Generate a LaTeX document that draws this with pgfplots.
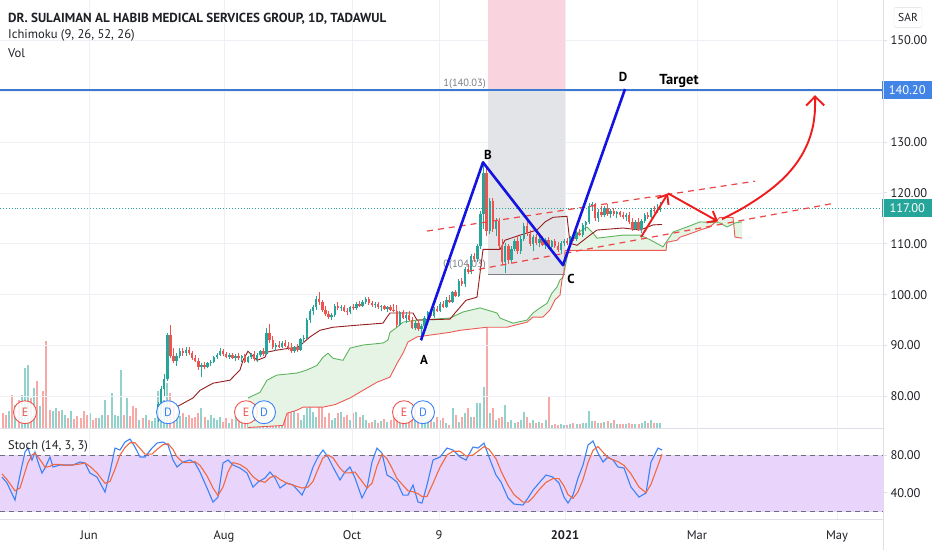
\documentclass[border=0pt]{standalone}
\usepackage{fontspec}
\setmainfont{PT Sans}
\usepackage{pgfplots}
\pgfplotsset{compat=1.18}
\usepackage{pgfplotstable}
\usetikzlibrary{arrows.meta}

\definecolor{upc}{RGB}{38,166,154}
\definecolor{dnc}{RGB}{239,83,80}
\definecolor{volup}{RGB}{146,210,204}
\definecolor{voldn}{RGB}{247,169,167}
\definecolor{kijun}{RGB}{150,30,30}
\definecolor{spanA}{RGB}{95,180,95}
\definecolor{spanB}{RGB}{236,90,85}
\definecolor{cloudc}{RGB}{230,244,230}
\definecolor{xabcd}{RGB}{20,20,225}
\definecolor{tgt}{RGB}{60,122,210}
\definecolor{tgtbox}{RGB}{66,133,230}
\definecolor{rarrow}{RGB}{240,28,28}
\definecolor{rdash}{RGB}{236,70,70}
\definecolor{kc}{RGB}{60,130,245}
\definecolor{dc}{RGB}{240,105,65}
\definecolor{stochfill}{RGB}{233,213,252}
\definecolor{bandc}{RGB}{110,110,122}
\definecolor{pinkc}{RGB}{249,211,222}
\definecolor{greyc}{RGB}{227,228,231}
\definecolor{sepc}{RGB}{220,223,230}
\definecolor{gridc}{RGB}{238,240,246}
\definecolor{labc}{RGB}{30,32,38}
\definecolor{fibc}{RGB}{125,128,138}

\pgfplotstableread{
x o h l c v
158.0 76 79 75 78.5 37
161.1 78.5 82 78 81.5 30
164.2 81.5 84.5 80 83.5 28
167.3 83.5 92.5 83 92 45
176.6 87 88.5 86 88 15
179.7 88 89.5 87.5 89 12
185.9 88.5 89.8 88 89.2 11
201.4 85.8 86.5 83.8 86.2 20
207.6 85.8 86.8 85.5 86.5 8
210.7 86.5 87.2 86 86.8 13
213.8 86.8 88 86.5 87.8 10
216.9 87.8 88.5 87.3 88.2 8
220.0 88.2 89.5 88 89 11
229.3 87.8 88.5 87.3 88.2 5
235.5 87.6 88.3 87 87.9 12
241.7 87.5 88.2 86.8 87.9 8
247.9 86.8 88 86.5 87.8 9
251.0 87.8 88.6 87.3 88.4 8
257.2 87.3 88.5 86.8 88.2 10
260.3 88.2 89.2 87.8 89 9
266.5 88.4 93.5 88.2 92.5 25
275.8 89.8 90.5 89 90.2 11
282.0 89.8 90.8 89.5 90.5 10
294.4 89 90 88.5 89.7 20
300.6 89.2 91.5 89 91.2 8
303.7 91.2 92 90.5 91.5 13
306.8 91.5 95.5 91.2 95 20
309.9 95 97.2 94.5 96.8 31
313.0 96.8 98 96 97.5 16
316.1 97.5 99.8 97 99.2 11
331.6 95.6 96.3 95 96 8
334.7 96 98.2 95.7 97.8 10
340.9 97.3 98 96.8 97.6 16
350.2 96.5 97.8 96.2 97.5 8
356.4 97.3 98.5 97 98.2 16
362.6 97.8 98.9 97.5 98.6 13
365.7 98.6 99.6 98.2 99.2 8
375.0 97.9 98.5 97.3 98.2 8
381.2 97.5 98 96.8 97.7 7
387.4 97.2 97.8 96.5 97.5 6
399.8 94 96.8 93.8 96.5 8
406.0 95.5 96.5 94.5 96 7
415.3 93.5 94.8 93 94.5 9
421.5 93.2 94.2 90.8 93.8 12
424.6 93.8 95.8 93.5 95.5 7
427.7 95.5 96.8 95 96.5 9
433.9 95.8 97.5 95.5 97.2 6
440.1 96.8 98.5 96.5 98.2 8
446.3 97.6 99.5 97.3 99 5
452.5 98.6 100.8 98.3 100.5 20
458.7 99.8 103 99.5 102.6 6
464.9 102 105.5 101.5 105 15
471.1 104.5 108 104 107.5 11
477.3 107 110 106.5 109.5 25
480.4 109.5 116.5 109 115.8 25
483.5 115.8 126.3 113 124 41
489.7 112.5 119 112 118.5 15
495.9 113 115 111.5 114.5 8
505.2 106.5 110.2 104.2 109.5 23
511.4 106.8 109.5 106.2 109 8
514.5 109 111 108.5 110.5 5
520.7 108.5 111.5 108 111 8
523.8 111 114 110.5 113.5 16
533.1 110 111.8 108.5 111.3 8
539.3 110.2 111.5 109.3 111 6
545.5 109.8 111.2 109 110.8 8
551.7 109.4 110.8 108.8 110.5 3
561.0 108.8 110.5 108 110.2 4
564.1 110.2 111 109.5 110.6 3
570.3 110.2 111.5 109.8 111.2 4
576.5 111 112.5 110.5 112.2 4
582.7 111.8 114 111.3 113.6 5
585.8 113.6 114.5 112.5 114.2 5
588.9 114.2 118 113.8 117.5 17
592.0 117.5 118.3 116.5 117.8 7
598.2 115 116.8 114.3 116.3 5
604.4 115.6 117.5 115.2 117 6
610.6 115.8 116.8 115 116.5 5
616.8 115.8 116.5 115 116.2 4
626.1 115.2 116 114.5 115.7 4
635.4 113 114.6 112.8 114.3 4
641.6 113 114.8 112.2 114.5 5
644.7 114.5 116 114 115.7 7
650.9 115.2 117 115 116.7 8
657.1 116.4 117.8 116 116.6 5
660.2 116.6 118.2 116.3 117 5
}\candup

\pgfplotstableread{
x o h l c v
170.4 92 94 87.5 88 35
173.5 88 89.5 86.5 87 22
182.8 89 89.6 88 88.5 15
189.0 89.2 89.8 88.2 88.6 13
192.1 88.6 89 87.2 87.5 10
195.2 87.5 88.2 86.8 87 11
198.3 87 87.5 85.2 85.8 15
204.5 86.2 86.8 85.3 85.8 11
223.1 89 89.3 88 88.3 6
226.2 88.3 88.8 87.5 87.8 10
232.4 88.2 88.6 87.4 87.6 9
238.6 87.9 88.5 87.2 87.5 10
244.8 87.9 88.4 86.5 86.8 14
254.1 88.4 89 87 87.3 12
263.4 89 89.6 88 88.4 14
269.6 92.5 94.3 90.5 91 18
272.7 91 91.8 89.3 89.8 12
278.9 90.2 90.8 89.5 89.8 10
285.1 90.5 91 89.8 90 13
288.2 90 90.7 89.2 89.5 15
291.3 89.5 90.5 88.6 89 16
297.5 89.7 90.3 88.8 89.2 15
319.2 99.2 100.5 98 98.5 31
322.3 98.5 99 96.5 97 70
325.4 97 97.8 95.8 96.2 11
328.5 96.2 96.8 95.3 95.6 15
337.8 97.8 98.5 97 97.3 15
344.0 97.6 98 96.5 96.8 11
347.1 96.8 97.4 96 96.5 13
353.3 97.5 98.2 97 97.3 15
359.5 98.2 98.8 97.5 97.8 11
368.8 99.2 99.5 98 98.3 5
371.9 98.3 98.7 97.6 97.9 6
378.1 98.2 98.6 97.2 97.5 5
384.3 97.7 98 97 97.2 9
390.5 97.5 97.9 96.8 97 8
393.6 97 98.2 96.5 96.8 10
396.7 96.8 98 93.6 94 14
402.9 96.5 97 95.2 95.5 9
409.1 96 96.8 94.8 95 10
412.2 95 95.6 93.2 93.5 8
418.4 94.5 95 92.8 93.2 10
430.8 96.5 97 95.5 95.8 8
437.0 97.2 97.8 96.5 96.8 11
443.2 98.2 98.8 97.3 97.6 10
449.4 99 100 98.3 98.6 3
455.6 100.5 101 99.5 99.8 13
461.8 102.6 103.2 101.8 102 11
468.0 105 106 104 104.5 20
474.2 107.5 108.2 106.5 107 11
486.6 124 125.5 111.5 112.5 106
492.8 118.5 119 112.3 113 20
499.0 114.5 115 109 109.5 10
502.1 109.5 111 106 106.5 11
508.3 109.5 110 106 106.8 6
517.6 110.5 111.5 108 108.5 6
526.9 113.5 114.5 111.5 112 11
530.0 112 112.8 109.5 110 5
536.2 111.3 112 109.8 110.2 5
542.4 111 111.5 109.5 109.8 5
548.6 110.8 111.3 109 109.4 31
554.8 110.5 111 109.2 109.6 4
557.9 109.6 110.3 108.3 108.8 3
567.2 110.6 111.2 109.8 110.2 3
573.4 111.2 112 110.5 111 5
579.6 112.2 113 111.5 111.8 4
595.1 117.8 118 114.5 115 7
601.3 116.3 117.5 115.3 115.6 5
607.5 117 117.8 115.5 115.8 7
613.7 116.5 117 115.5 115.8 8
619.9 116.2 116.5 115.3 115.6 4
623.0 115.6 116.3 114.8 115.2 4
629.2 115.7 116.2 113.8 114.2 5
632.3 114.2 115 112.5 113 4
638.5 114.3 115 112.5 113 4
647.8 115.7 116.2 114.8 115.2 5
654.0 116.7 117.5 116 116.4 5
}\canddn

\pgfplotstableread{
x v
9.2 17
15.4 23
21.6 33
24.7 60
27.8 63
34 40
40.2 22
52.6 17
55.7 20
61.9 18
65 13
71.2 17
89.8 15
99.1 10
102.2 13
105.3 28
111.5 35
114.6 13
117.7 12
120.8 58
127 30
139.4 8
145.6 13
151.8 7
154.9 10
}\volupz

\pgfplotstableread{
x v
3 15
6.1 13
12.3 33
18.5 28
30.9 30
37.1 47
43.3 37
46.4 87
49.5 18
58.8 17
68.1 10
74.3 9
77.4 12
80.5 10
83.6 17
86.7 13
92.9 8
96 10
108.4 13
123.9 13
130.1 12
133.2 22
136.3 20
142.5 10
148.7 8
}\voldnz

\pgfplotsset{
  panel/.style={scale only axis, width=883pt, xmin=0, xmax=883,
    axis x line*=bottom, axis y line*=right,
    axis line style={draw=sepc, line width=0.8pt},
    xtick={89,224,352,439,565,697,837},
    xtick style={draw=none}, ytick style={draw=sepc, line width=0.8pt},
    major tick length=4pt, tick align=outside,
    major grid style={draw=gridc, line width=0.7pt},
    tick label style={font=\fontsize{12.5}{14}\selectfont, text=labc},
    yticklabel={\pgfmathprintnumber[fixed,fixed zerofill,precision=2,assume math mode=true]{\tick}},
    clip=false},
}
\tikzset{
  emark/.style={circle, draw=dnc, fill=white, fill opacity=0.85, text opacity=1, minimum size=23pt, inner sep=0pt, line width=0.9pt, text=dnc, font=\fontsize{12}{14}\selectfont},
  dmark/.style={circle, draw=kc, fill=white, fill opacity=0.85, text opacity=1, minimum size=23pt, inner sep=0pt, line width=0.9pt, text=kc, font=\fontsize{12}{14}\selectfont},
}

\begin{document}
\begin{tikzpicture}
\path[use as bounding box, fill=white] (0pt,0pt) rectangle (932pt,550pt);

% ---------- volume ----------
\begin{axis}[at={(0pt,122pt)}, anchor=south west, scale only axis,
  width=883pt, height=428pt, xmin=0, xmax=883, ymin=0, ymax=428, hide axis]
\addplot[ycomb, line width=2pt, draw=volup] table[x=x,y=v]{\volupz};
\addplot[ycomb, line width=2pt, draw=voldn] table[x=x,y=v]{\voldnz};
\addplot[ycomb, line width=2pt, draw=volup] table[x=x,y=v]{\candup};
\addplot[ycomb, line width=2pt, draw=voldn] table[x=x,y=v]{\canddn};
\end{axis}

% ---------- price panel ----------
\begin{axis}[panel, at={(0pt,122pt)}, anchor=south west, height=428pt,
  ymin=73.8, ymax=157.9, ytick={80,90,...,150}, xticklabels={},
  grid=major]
% measure boxes
\addplot[fill=pinkc, draw=none] coordinates {(488,140.2)(565,140.2)(565,157.9)(488,157.9)};
\addplot[fill=greyc, draw=none] coordinates {(488,104.03)(565,104.03)(565,140.2)(488,140.2)};
\addplot[draw=fibc, line width=1pt] coordinates {(488,104.03)(565,104.03)};
\node[anchor=east, text=fibc, font=\fontsize{10.5}{12}\selectfont, inner sep=1pt] at (axis cs:487,141.4) {1(140.03)};
\node[anchor=east, text=fibc, font=\fontsize{10.5}{12}\selectfont, inner sep=1pt] at (axis cs:487,105.8) {0(104.03)};

% Ichimoku cloud (span A forward, span B back)
\addplot[fill=cloudc, draw=none] coordinates {(248,79.7)(260,80.8)(267,83.2)(277,84.2)(297,84.6)(307,85.2)(317,86.1)(323,87.7)(328,88.5)(333,87.5)(343,87.1)(350,89.5)(363,90.1)(383,90.5)(388,91.1)(390,92.6)(397,93.6)(403,94.6)(417,95.0)(450,95.4)(463,96.6)(480,97.4)(497,96.4)(500,95.4)(513,94.4)(527,95.0)(533,96.4)(540,97.4)(547,98.3)(552,100.3)(557,101.5)(560,102.9)(563,103.4)(570,110.1)(577,112.1)(587,113.3)(593,112.1)(597,111.1)(623,111.7)(640,111.7)(650,110.8)(663,109.4)(673,112.3)(687,113.3)(700,114.3)(720,114.1)(727,113.3)(735,114.1)(742,114.3)
(742,111.1)(735,111.3)(733,115.2)(720,115.2)(717,114.6)(710,113.3)(700,112.7)(692,112.1)(680,111.3)(677,110.7)(667,110.3)(666,108.7)(565,108.7)(564,104.5)(562,102.9)(560,99.9)(555,99.0)(550,97.0)(543,95.6)(533,95.6)(527,94.6)(507,93.6)(487,93.6)(460,93.0)(450,92.6)(417,91.7)(408,90.7)(403,88.5)(397,86.5)(390,83.8)(377,82.8)(363,81.2)(350,79.7)(335,78.4)(323,77.9)(303,77.9)(297,77.3)(287,76.7)(283,74.3)(248,73.9)};
\addplot[spanA, line width=0.9pt] coordinates {(248,79.7)(260,80.8)(267,83.2)(277,84.2)(297,84.6)(307,85.2)(317,86.1)(323,87.7)(328,88.5)(333,87.5)(343,87.1)(350,89.5)(363,90.1)(383,90.5)(388,91.1)(390,92.6)(397,93.6)(403,94.6)(417,95.0)(450,95.4)(463,96.6)(480,97.4)(497,96.4)(500,95.4)(513,94.4)(527,95.0)(533,96.4)(540,97.4)(547,98.3)(552,100.3)(557,101.5)(560,102.9)(563,103.4)(570,110.1)(577,112.1)(587,113.3)(593,112.1)(597,111.1)(623,111.7)(640,111.7)(650,110.8)(663,109.4)(673,112.3)(687,113.3)(700,114.3)(720,114.1)(727,113.3)(735,114.1)(742,114.3)};
\addplot[spanB, line width=0.9pt] coordinates {(248,73.9)(283,74.3)(287,76.7)(297,77.3)(303,77.9)(323,77.9)(335,78.4)(350,79.7)(363,81.2)(377,82.8)(390,83.8)(397,86.5)(403,88.5)(408,90.7)(417,91.7)(450,92.6)(460,93.0)(487,93.6)(507,93.6)(527,94.6)(533,95.6)(543,95.6)(550,97.0)(555,99.0)(560,99.9)(562,102.9)(564,104.5)(565,108.7)(666,108.7)(667,110.3)(677,110.7)(680,111.3)(692,112.1)(700,112.7)(710,113.3)(717,114.6)(720,115.2)(733,115.2)(735,111.3)(742,111.1)};
\addplot[kijun, line width=0.9pt] coordinates {(178,78.1)(193,79.7)(200,81.2)(213,82.6)(230,83.2)(240,85.2)(243,87.1)(248,88.9)(252,88.1)(257,87.1)(265,87.7)(267,88.7)(277,89.1)(290,89.5)(298,89.7)(303,90.5)(310,91.7)(320,93.0)(333,93.6)(357,94.0)(383,94.4)(387,95.6)(390,96.4)(413,96.4)(417,95.0)(450,95.2)(455,96.4)(466,98.9)(477,99.5)(483,108.9)(500,108.9)(505,110.7)(520,111.7)(537,112.7)(545,114.3)(553,115.2)(567,115.4)(570,110.1)(577,109.7)(590,111.7)(597,112.7)(623,113.1)(640,112.7)(653,113.7)(662,113.8)};

% candles: wicks low->high, bodies min(o,c)->max(o,c)
\addplot[draw=upc, line width=0.75pt, quiver={u=0, v=\thisrow{h}-\thisrow{l}}] table[x=x, y=l]{\candup};
\addplot[draw=dnc, line width=0.75pt, quiver={u=0, v=\thisrow{h}-\thisrow{l}}] table[x=x, y=l]{\canddn};
\addplot[draw=upc, line width=2.4pt, quiver={u=0, v={max(\thisrow{c}-\thisrow{o},0.25)}}] table[x=x, y=o]{\candup};
\addplot[draw=dnc, line width=2.4pt, quiver={u=0, v={max(\thisrow{o}-\thisrow{c},0.25)}}] table[x=x, y=c]{\canddn};

% last price and target lines
\addplot[upc, dotted, line width=0.9pt] coordinates {(0,117)(883,117)};
\addplot[tgt, line width=1.8pt] coordinates {(0,140.2)(883,140.2)};

% channel
\addplot[rdash, line width=1.2pt, dash pattern=on 6pt off 5pt] coordinates {(427,112.5)(755,122.3)};
\addplot[rdash, line width=1.2pt, dash pattern=on 6pt off 5pt] coordinates {(468,104.6)(835,118.0)};

% XABCD
\addplot[xabcd, line width=2.6pt, line join=round] coordinates {(421,91.06)(483,126.0)(563,105.8)(625,140.4)};

% red arrows
\addplot[rarrow, line width=1.9pt, -{Straight Barb[length=8pt,width=13pt]}] coordinates {(641,111.3)(668,119.9)};
\addplot[rarrow, line width=1.9pt, -{Straight Barb[length=8pt,width=13pt]}] coordinates {(668,119.9)(718,114.4)};
\addplot[rarrow, line width=1.9pt, smooth, -{Straight Barb[length=9pt,width=18pt]}] coordinates {(722,114.83)(741.2,116.82)(758.1,118.90)(772.6,120.98)(785.1,123.18)(795.1,125.46)(803.1,127.88)(809,130.41)(813,133.14)(814.9,136.05)(815,139.2)};

% labels
\node[font=\bfseries\fontsize{13}{15}\selectfont] at (axis cs:424,87.1) {A};
\node[font=\bfseries\fontsize{13}{15}\selectfont] at (axis cs:488,127.4) {B};
\node[font=\bfseries\fontsize{13}{15}\selectfont] at (axis cs:571,103.0) {C};
\node[font=\bfseries\fontsize{13}{15}\selectfont] at (axis cs:623,142.7) {D};
\node[font=\bfseries\fontsize{14.5}{16}\selectfont] at (axis cs:679,142.0) {Target};

% earnings / dividend markers
\node[emark] at (axis cs:25,76.9) {E};
\node[emark] at (axis cs:246,76.9) {E};
\node[emark] at (axis cs:404,76.9) {E};
\node[dmark] at (axis cs:168,76.9) {D};
\node[dmark] at (axis cs:264,76.9) {D};
\node[dmark] at (axis cs:423,76.9) {D};

% right scale boxes
\node[fill=tgtbox, text=white, anchor=west, minimum width=50pt, minimum height=18pt, inner sep=0pt, font=\fontsize{12.5}{14}\selectfont] at (axis cs:882,140.2) {140.20};
\node[fill=upc, text=white, anchor=west, minimum width=50pt, minimum height=18pt, inner sep=0pt, font=\fontsize{12.5}{14}\selectfont] at (axis cs:882,117) {117.00};
\node[draw=sepc, fill=white, rounded corners=2pt, minimum width=28pt, minimum height=20pt, inner sep=0pt, text=labc, font=\fontsize{11.5}{13}\selectfont] at (axis cs:908,154.5) {SAR};

% titles
\node[anchor=west, inner sep=0pt, text=labc, font=\bfseries\fontsize{13.1}{15}\selectfont] at (axis cs:8,154.3) {DR. SULAIMAN AL HABIB MEDICAL SERVICES GROUP, 1D, TADAWUL};
\node[anchor=west, inner sep=0pt, text=labc, font=\fontsize{12.6}{14}\selectfont] at (axis cs:8,151.0) {Ichimoku (9, 26, 52, 26)};
\node[anchor=west, inner sep=0pt, text=labc, font=\fontsize{12.6}{14}\selectfont] at (axis cs:8,147.5) {Vol};
\end{axis}

% ---------- stochastic panel ----------
\begin{axis}[panel, at={(0pt,31pt)}, anchor=south west, height=91pt,
  ymin=12.1, ymax=108.7, ytick={40,80},
  xticklabels={Jun,Aug,Oct,9,\textbf{2021},Mar,May},
  xmajorgrids, xticklabel style={yshift=-4pt}]
\addplot[fill=stochfill, draw=none] coordinates {(0,20)(883,20)(883,80)(0,80)};
\addplot[bandc, line width=0.9pt, dash pattern=on 5pt off 4pt] coordinates {(0,80)(883,80)};
\addplot[bandc, line width=0.9pt, dash pattern=on 5pt off 4pt] coordinates {(0,20)(883,20)};
\addplot[kc, line width=1.1pt] coordinates {(2,56.6)(7,50.3)(15,32.2)(20,58.8)(25,83.2)(28,87.4)(32,74.7)(35,83.2)(38,72.6)(42,60.9)(45,66.2)(50,77.9)(53,67.3)(60,69.4)(67,69.4)(73,69.4)(80,72.6)(85,71.5)(90,60.9)(97,56.6)(105,40.7)(110,62)(115,87.4)(120,85.3)(125,93.8)(130,97)(135,88.5)(140,77.9)(145,77.9)(152,87.4)(157,92.7)(163,93.8)(168,90.6)(173,74.7)(177,67.3)(183,72.6)(190,74.7)(195,71.5)(200,62)(207,45)(213,30.1)(218,35.4)(223,71.5)(228,74.7)(233,69.4)(240,66.2)(247,60.9)(253,46)(258,51.3)(265,55.6)(270,62)(275,55.6)(280,45)(287,50.3)(293,48.2)(302,37.5)(308,51.3)(313,67.3)(318,77.9)(323,85.3)(328,77.9)(333,67.3)(340,53.5)(345,62)(350,67.3)(355,55.6)(362,34.4)(367,45)(372,72.6)(377,87.4)(382,82.1)(387,58.8)(392,55.6)(397,51.3)(403,37.5)(408,37.5)(413,48.2)(418,30.1)(422,29)(427,48.2)(433,74.7)(440,77.9)(447,87.4)(453,85.3)(460,77.9)(466,74.7)(473,88.5)(478,87.4)(484,92.7)(489,77.9)(496,58.8)(501,51.3)(508,34.4)(514,28)(523,26.9)(528,34.4)(533,42.8)(539,50.3)(546,58.8)(553,56.6)(559,50.3)(564,35.4)(568,29)(573,37.5)(578,55.6)(583,69.4)(588,90.6)(593,94.9)(598,82.1)(603,72.6)(608,77.9)(613,74.7)(618,67.3)(624,66.2)(631,46)(639,35.4)(646,39.7)(651,72.6)(658,87.4)(662,85.3)};
\addplot[dc, line width=1.1pt] coordinates {(2,60)(7,54)(15,42)(20,45)(25,62)(28,72)(32,80)(35,82)(38,78)(42,72)(45,67)(50,68)(53,70)(60,70)(67,69)(73,69.5)(80,70.5)(85,71.5)(90,68)(97,61)(105,50)(110,52)(115,65)(120,80)(125,88)(130,93)(135,93)(140,87)(145,81)(152,81)(157,86)(163,91)(168,92)(173,86)(177,78)(183,72)(190,72)(195,73)(200,69)(207,58)(213,45)(218,37)(223,46)(228,62)(233,72)(240,70)(247,65)(253,57)(258,53)(265,51)(270,56)(275,58)(280,54)(287,50)(293,48)(302,45)(308,46)(313,52)(318,65)(323,77)(328,80)(333,77)(340,66)(345,61)(350,61)(355,62)(362,52)(367,45)(372,50)(377,68)(382,81)(387,76)(392,66)(397,55)(403,48)(408,42)(413,41)(418,39)(422,36)(427,36)(433,50)(440,67)(447,80)(453,84)(460,84)(466,79)(473,80)(478,84)(484,89)(489,86)(496,76)(501,63)(508,48)(514,38)(523,30)(528,30)(533,35)(539,43)(546,51)(553,55)(559,55)(564,47)(568,38)(573,34)(578,41)(583,54)(588,72)(593,85)(598,89)(603,83)(608,77)(613,75)(618,73)(624,69)(631,60)(639,46)(646,40)(651,49)(658,69)(662,81)};
\node[anchor=west, inner sep=0pt, text=labc, font=\fontsize{12.5}{14}\selectfont] at (axis cs:8,89.6) {Stoch (14, 3, 3)};
\end{axis}

\draw[sepc, line width=0.8pt] (883pt,0pt) -- (883pt,550pt);
\end{tikzpicture}
\end{document}
